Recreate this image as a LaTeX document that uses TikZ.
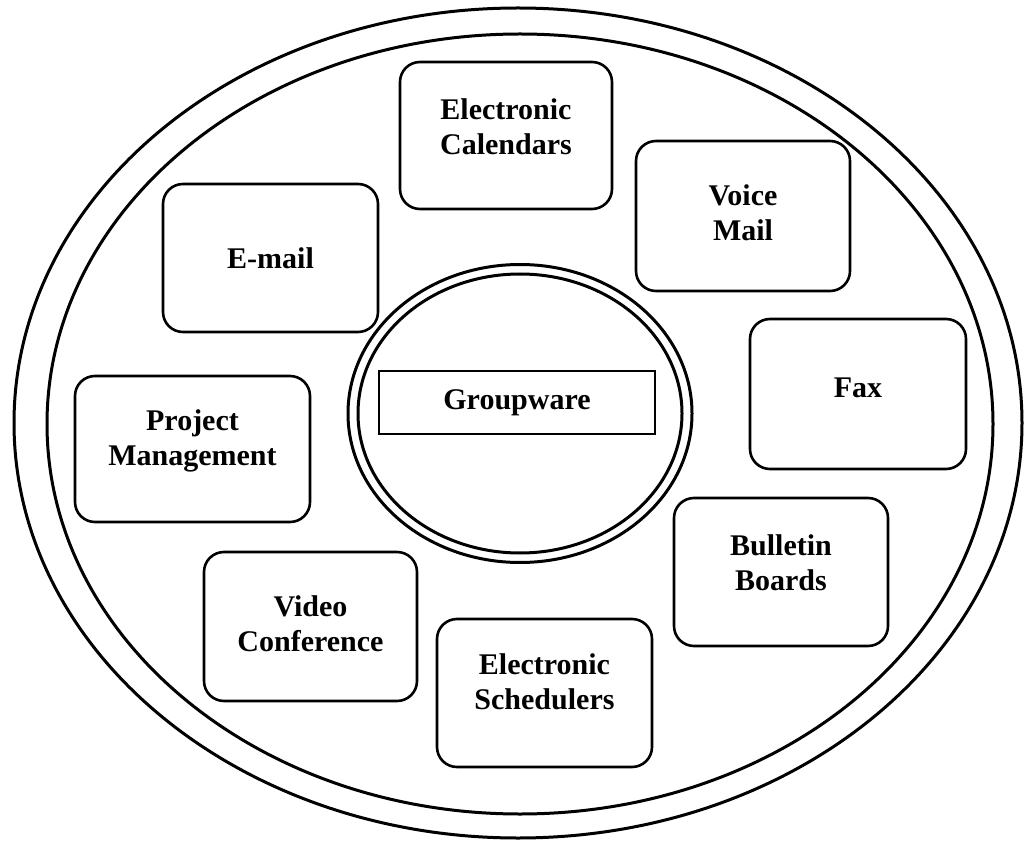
\documentclass[tikz,border=0pt]{standalone}
\usepackage{fontspec}
\setmainfont{Liberation Serif}
\newcommand\boxtext[2]{\raisebox{#1}[\height][\depth]{\begin{tabular}{@{}c@{}}#2\end{tabular}}}
\begin{document}
\begin{tikzpicture}[x=1pt,y=-1pt,
  box/.style={draw, line width=2.6pt, rounded corners=20pt, align=center,
    font=\bfseries\fontsize{30}{35}\selectfont, inner sep=0pt},
  ring/.style={draw, line width=3pt}]
\useasboundingbox (0,0) rectangle (1031,842);
% outer double ellipse
\draw[ring] (518,423) ellipse [x radius=504, y radius=415];
\draw[ring] (520,424) ellipse [x radius=473, y radius=390];
% inner double circle
\coordinate (core) at (520,413.5);
\draw[ring] (core) ellipse [x radius=172, y radius=149];
\draw[ring] (core) ellipse [x radius=162, y radius=139.5];
% centre label
\node[draw, line width=2.5pt, minimum width=276pt, minimum height=63pt, inner sep=0pt,
  font=\bfseries\fontsize{30}{35}\selectfont] (gw) at (517,402.5) {Groupware};
% surrounding boxes
\node[box, minimum width=212pt, minimum height=147pt] (ec)  at (506,135.5) {\boxtext{5pt}{Electronic\\Calendars}};
\node[box, minimum width=214pt, minimum height=150pt] (vm)  at (743,216)   {\boxtext{0pt}{Voice\\Mail}};
\node[box, minimum width=215pt, minimum height=148pt] (em)  at (270.5,258) {E-mail};
\node[box, minimum width=216pt, minimum height=150pt] (fax) at (858,394)   {\boxtext{4pt}{Fax}};
\node[box, minimum width=235pt, minimum height=146pt] (pm)  at (192.5,449) {\boxtext{8pt}{Project\\Management}};
\node[box, minimum width=214pt, minimum height=148pt] (bb)  at (781,572)   {\boxtext{6pt}{Bulletin\\Boards}};
\node[box, minimum width=213pt, minimum height=149pt] (vc)  at (310.5,626.5) {\boxtext{0pt}{Video\\Conference}};
\node[box, minimum width=215pt, minimum height=148pt] (es)  at (544.5,693) {\boxtext{8pt}{Electronic\\Schedulers}};
\end{tikzpicture}
\end{document}
